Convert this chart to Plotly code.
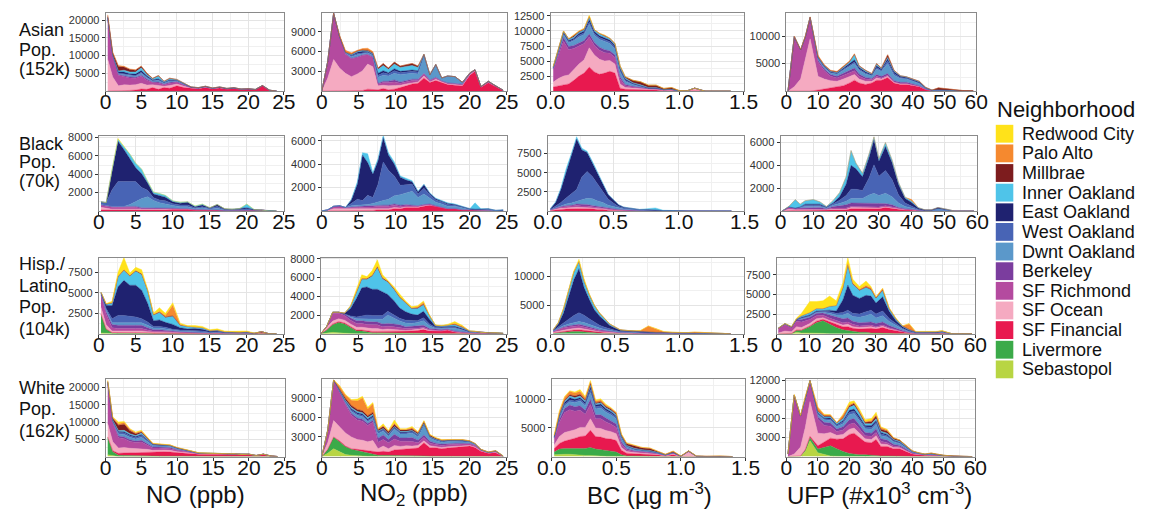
import plotly.graph_objects as go

W, H = 1152, 513
FONT = "Liberation Sans, Arial, Helvetica, sans-serif"

# ---------------- categories ----------------
KEYS = ["RC", "PA", "MB", "IO", "EO", "WO", "DO", "BK", "SR", "SO", "SF", "LV", "SB"]
NAMES = ["Redwood City", "Palo Alto", "Millbrae", "Inner Oakland", "East Oakland", "West Oakland",
         "Dwnt Oakland", "Berkeley", "SF Richmond", "SF Ocean", "SF Financial", "Livermore", "Sebastopol"]
COLORS = ["#FFE21A", "#F5892F", "#7D1C1E", "#4FC4E9", "#1F2270", "#4864B5", "#5B98CA",
          "#7B3D9E", "#B44A9F", "#F5AAC1", "#E8194F", "#3BAA49", "#B8D543"]

ROW_LABELS = [["Asian", "Pop.", "(152k)"], ["Black", "Pop.", "(70k)"],
              ["Hisp./", "Latino", "Pop.", "(104k)"], ["White", "Pop.", "(162k)"]]
X_TITLES = ["NO (ppb)", "NO<sub>2</sub> (ppb)", "BC (µg m<sup>-3</sup>)", "UFP (#x10<sup>3</sup> cm<sup>-3</sup>)"]

# ---------------- x bins ----------------
NO_X = [0.3, 1.0, 1.8, 2.6, 3.4, 4.2, 5.0, 5.8, 6.6, 7.4, 8.2, 9.0, 10, 11, 12, 13, 14, 15, 16, 17, 18, 19, 20, 21, 22, 23, 24]
NO2_X = [0, 0.8, 1.6, 2.4, 3.2, 4.0, 4.8, 5.5, 6.2, 6.9, 7.6, 8.3, 9.0, 9.8, 10.6, 11.4, 12.2, 13.0, 13.8, 14.6,
         15.4, 16.2, 17.0, 18.0, 19.0, 20.0, 20.7, 21.5, 22.5, 23.5, 24.5]
BC_X = [0.02, 0.06, 0.1, 0.14, 0.18, 0.22, 0.26, 0.3, 0.34, 0.38, 0.42, 0.46, 0.5, 0.54, 0.58, 0.64, 0.7, 0.76,
        0.82, 0.88, 0.94, 1.0, 1.06, 1.12, 1.2, 1.3, 1.4]
UFP_X = [0.5, 2.5, 4.5, 6, 7.5, 10, 12, 14, 16, 18, 20, 21.5, 23, 25, 27, 28.5, 30, 32, 34, 36,
         38, 40, 42, 44, 46, 48, 50, 53, 56, 59]

# ---------------- Asian ----------------
asian_no = dict(
    SF=[0,0,0,0,200,300,600,500,1000,500, 1000,800,1500,1000,800,700,1000,700,900,600, 800,500,600,400,1500,200,0],
    SO=[9000,4000,1500,1800,1500,1500,1600,1200,800,1000, 400,800,500,400,100,100,100,0,100,0, 0,0,0,0,0,0,0],
    SR=[11500,6000,3000,2200,2000,1800,2000,1400,600,800, 400,600,500,300,100,50,100,50,50,50, 50,30,30,30,30,30,0],
    BK=[200,200,200,300,300,300,300,300,200,300, 200,300,200,100,0,0,0,0,0,0, 0,0,0,0,0,0,0],
    DO=[0,0,200,300,300,300,500,400,300,400, 300,400,200,200,100,50,100,50,50,50, 50,30,30,30,30,30,0],
    WO=[0,0,200,300,200,200,300,200,100,200, 100,100,100,50,0,0,0,0,0,0, 0,0,0,0,0,0,0],
    EO=[0,0,300,500,400,400,500,300,200,300, 100,200,100,100,50,50,50,50,50,50, 50,0,0,0,0,0,0],
    IO=[0,0,300,500,500,600,800,400,300,700, 200,300,150,150,50,50,50,50,50,50, 50,40,40,40,40,40,0],
    MB=[600,600,1200,900,700,500,400,300,100,200, 100,150,50,50,0,0,0,0,0,0, 0,0,0,0,0,0,0],
    PA=[200,200,300,200,150,100,100,80,0,0, 0,0,0,0,0,0,0,0,0,0, 0,0,0,0,0,0,0],
)
asian_no2 = dict(
    SF=[0,0,0,0,0,0,0,100,300,200, 200,400,200,300,500,800,1100,1200,2000,1300, 1600,1300,1000,900,800,2400,3000,600,1300,700, 100],
    SO=[0,2000,4800,3500,2700,2200,2600,3000,3800,3500, 600,500,600,500,400,300,200,200,300,100, 200,100,100,100,100,100,100,0,0,0, 0],
    SR=[0,2500,7000,4800,2900,2700,2500,2300,1400,1400, 300,400,500,600,300,300,300,200,300,200, 200,100,100,100,100,100,50,50,100,50, 20],
    BK=[0,0,0,0,100,100,100,100,100,100, 100,200,200,300,200,200,200,200,100,100, 100,50,50,50,50,50,50,0,0,0, 0],
    DO=[0,0,0,0,100,200,300,200,200,200, 900,900,800,1000,1100,1000,900,800,2700,700, 1800,400,1000,1000,300,100,50,50,100,50, 30],
    WO=[0,0,0,0,100,150,200,150,100,100, 300,400,300,400,300,300,300,300,100,50, 100,50,50,50,0,0,0,0,0,0, 0],
    EO=[0,0,0,0,0,100,200,200,100,100, 300,300,200,300,200,200,200,200,50,50, 50,0,0,0,0,0,0,0,0,0, 0],
    IO=[0,0,0,0,0,100,100,100,100,100, 600,800,500,700,600,600,700,500,50,0, 0,0,0,0,0,0,0,0,0,0, 0],
    MB=[0,0,0,0,0,50,100,100,100,100, 200,300,200,300,200,300,300,200,0,0, 0,0,0,0,0,0,0,0,0,0, 0],
    PA=[0,0,0,200,300,200,100,200,300,200, 0,0,0,0,0,0,0,0,0,0, 0,0,0,0,0,0,0,0,0,0, 0],
)
asian_bc = dict(
    SF=[700,900,1000,1200,1800,2500,3000,4000,3200,2800, 3000,3300,3000,500,300,300,200,200,200,100, 100,0,0,0,0,0,0],
    SO=[800,1200,1500,1500,1800,2000,2200,3200,2800,2500, 2000,1800,1500,700,300,200,200,100,100,50, 50,0,0,500,0,0,0],
    SR=[2000,3800,5800,4200,3500,3000,2700,1800,1600,1500, 1400,1200,1100,800,300,200,150,100,100,50, 50,50,50,0,0,50,0],
    BK=[200,400,600,500,500,500,500,500,500,500, 500,400,400,400,200,100,100,100,100,50, 100,0,0,0,0,0,0],
    DO=[200,300,500,600,800,1000,1000,1600,1200,1300, 1300,1200,1000,800,500,300,100,0,0,0, 0,0,0,0,0,0,0],
    WO=[0,100,200,200,200,300,300,400,300,300, 300,300,300,300,200,100,100,0,0,0, 0,0,0,0,0,0,0],
    EO=[0,100,200,200,200,300,300,400,300,300, 300,300,300,300,200,100,100,50,50,0, 0,0,0,0,0,0,0],
    IO=[100,100,100,200,200,200,200,400,200,300, 300,200,200,300,200,100,100,50,50,0, 0,0,0,0,0,0,0],
    MB=[100,100,100,100,200,100,100,100,100,100, 100,100,100,100,200,400,500,400,400,200, 300,50,0,0,0,0,0],
    PA=[0,0,0,0,100,100,100,100,0,0, 100,0,0,0,0,0,0,0,0,0, 0,0,0,0,0,0,0],
    RC=[0,0,0,0,0,0,0,100,0,0, 0,0,0,0,0,0,0,0,0,0, 0,0,0,0,0,0,0],
)
asian_ufp = dict(
    SF=[0,0,0,0,0,200,400,700,800,1000, 1500,2000,1500,1200,1500,2000,2000,2500,1500,1200, 1200,1000,800,300,100,100,100,50,0,50],
    SO=[0,800,2200,5800,9500,2500,1800,1200,1000,1200, 1200,1000,700,600,300,400,200,200,100,100, 100,50,50,0,0,0,0,0,0,0],
    SR=[0,9000,5200,4000,3800,2600,1500,800,600,700, 700,700,500,400,300,300,200,200,100,100, 100,50,50,50,0,0,0,0,0,0],
    BK=[0,100,100,100,100,300,300,300,300,400, 500,500,400,300,200,300,300,300,200,200, 200,150,100,50,0,0,0,0,0,0],
    DO=[0,0,0,0,0,300,300,300,400,500, 600,800,700,600,500,1000,900,1800,1000,700, 600,500,400,100,50,100,100,50,0,0],
    WO=[0,0,0,0,0,100,100,100,100,200, 200,300,200,200,100,300,200,500,300,200, 150,150,100,50,0,0,0,0,0,0],
    EO=[0,0,0,0,0,100,100,100,100,200, 300,400,300,200,100,300,200,400,300,200, 150,150,150,50,0,0,0,0,0,0],
    IO=[0,0,0,0,0,100,100,100,100,200, 300,900,200,200,100,300,100,200,200,100, 100,100,100,50,50,0,0,0,0,0],
    MB=[0,0,0,0,0,100,100,100,100,100, 100,100,100,100,100,100,100,500,100,0, 0,50,50,50,0,400,300,200,100,50],
    PA=[0,100,100,200,100,200,100,100,100,100, 100,100,0,0,0,0,0,0,0,0, 0,0,0,0,0,0,0,0,0,0],
)

# ---------------- Black ----------------
black_no = dict(
    SF=[100,100,100,100,100,100,100,100,100,100, 100,100,200,200,200,100,100,100,100,50, 50,50,50,50,100,0,0],
    SO=[300,200,100,100,100,100,100,50,50,50, 50,50,0,0,0,0,0,0,0,0, 0,0,0,0,0,0,0],
    SR=[200,200,200,200,200,200,200,100,100,100, 100,100,50,50,50,50,50,0,0,0, 0,0,0,0,0,0,0],
    BK=[100,100,100,100,100,100,100,100,100,100, 50,50,50,0,0,0,0,0,0,0, 0,0,0,0,0,0,0],
    DO=[0,0,0,0,0,200,500,1000,1200,800, 600,500,300,200,200,100,200,100,200,50, 50,50,100,50,0,0,0],
    WO=[300,300,1800,2700,2700,2500,2200,1200,700,300, 300,300,200,200,200,100,100,100,200,50, 50,50,100,0,0,0,0],
    EO=[0,0,2000,4400,3500,2500,1500,1500,800,400, 500,400,200,200,300,100,200,50,200,100, 50,100,100,50,0,0,0],
    IO=[0,0,200,200,300,500,500,500,200,200, 200,200,100,100,50,100,100,0,0,0, 0,0,400,0,0,0,0],
    RC=[0,0,50,100,50,0,0,0,0,0, 0,0,0,0,0,0,0,0,0,0, 0,0,0,0,0,0,0],
)
black_no2 = dict(
    SF=[0,0,50,50,50,50,50,50,50,50, 100,100,100,200,200,300,300,300,400,500, 400,300,200,200,100,100,100,50,50,0, 0],
    SO=[0,50,150,150,100,100,100,100,100,100, 100,100,100,100,50,50,50,50,50,0, 0,0,0,0,0,0,0,0,0,0, 0],
    SR=[0,50,200,250,150,150,150,150,200,200, 200,200,200,200,150,100,100,50,50,50, 0,0,0,0,0,0,0,0,0,0, 0],
    BK=[0,0,0,0,0,50,100,100,100,100, 100,100,100,100,100,100,50,50,50,50, 50,0,0,0,0,0,0,0,0,0, 0],
    DO=[0,0,0,0,0,100,100,100,100,200, 300,400,500,700,900,1000,1200,700,900,500, 300,300,200,200,150,50,0,100,100,50, 50],
    WO=[0,0,0,0,0,200,500,400,800,500, 1500,3300,2500,1700,800,700,600,300,500,300, 200,200,150,100,50,0,0,0,0,0, 0],
    EO=[0,0,0,0,0,300,1300,3900,2800,2000, 2000,2100,1300,1000,700,400,200,200,300,100, 100,50,100,50,50,50,50,50,50,0, 50],
    IO=[0,0,0,0,0,50,200,200,750,150, 200,200,200,200,100,150,100,50,50,50, 50,50,50,50,50,0,550,0,0,0, 0],
)
black_bc = dict(
    SF=[50,150,200,250,300,300,300,300,300,200, 200,100,100,50,50,50,0,0,0,0, 0,0,0,0,0,0,0],
    SO=[50,100,150,150,150,200,150,150,100,100, 100,50,50,50,0,0,0,0,0,0, 0,0,0,0,0,0,0],
    SR=[50,100,150,200,200,200,200,200,150,150, 100,100,50,50,50,0,0,0,0,0, 0,0,0,0,0,0,0],
    BK=[0,50,100,100,100,200,200,200,150,150, 100,100,50,50,50,50,50,50,0,0, 0,0,0,0,0,0,0],
    DO=[0,0,100,200,300,400,600,800,900,700, 600,400,300,150,100,50,50,0,0,0, 0,0,0,0,0,0,0],
    WO=[50,200,400,800,1200,1500,3000,3500,2900,2200, 1400,800,500,250,150,100,50,50,50,0, 0,0,0,0,0,0,0],
    EO=[100,500,1700,3500,5000,6600,3500,2500,1800,1400, 900,600,400,200,100,50,50,100,50,50, 50,0,0,0,0,0,0],
    IO=[0,100,200,300,250,300,250,150,200,100, 100,50,50,0,0,0,0,100,300,50, 0,0,0,0,0,0,0],
)
black_ufp = dict(
    SF=[0,50,50,50,50,50,50,50,100,100, 100,200,200,200,200,200,200,300,200,150, 100,100,50,0,0,0,0,0,0,0],
    SO=[0,100,50,50,50,50,50,50,50,50, 50,100,100,100,100,50,50,50,50,0, 0,0,0,0,0,0,0,0,0,0],
    SR=[0,150,100,100,100,100,100,50,100,100, 100,100,100,100,100,100,100,100,100,50, 50,0,0,0,0,0,0,0,0,0],
    BK=[0,50,50,50,100,100,100,50,150,200, 300,300,300,300,300,300,300,200,200,100, 50,50,0,0,0,0,0,0,0,0],
    DO=[0,0,0,50,100,100,100,50,100,200, 300,400,400,400,700,900,700,900,700,400, 200,100,50,50,50,200,100,0,0,0],
    WO=[0,0,0,50,100,100,100,50,100,300, 500,800,800,700,1500,2500,1700,2000,1500,700, 300,200,50,0,0,0,0,0,0,0],
    EO=[0,0,0,0,100,100,100,50,100,300, 1000,2100,1800,1200,1800,2200,1300,2100,1500,900, 400,300,100,50,50,100,100,0,0,0],
    IO=[0,50,750,250,300,400,200,50,200,350, 650,1300,500,300,300,250,250,350,250,200, 100,100,50,0,0,0,0,0,0,0],
    PA=[0,0,0,0,0,0,0,0,0,0, 0,0,0,0,0,0,0,0,0,0, 0,150,0,0,0,0,0,0,0,0],
)

# ---------------- Hispanic / Latino ----------------
hisp_no = dict(
    SB=[100,50,0,0,0,0,0,0,0,0, 0,0,0,0,0,0,0,0,0,0, 0,0,0,0,0,0,0],
    LV=[2300,500,100,100,100,100,50,50,50,0, 0,0,0,0,0,0,0,0,0,0, 0,0,0,0,0,0,0],
    SF=[50,50,50,50,50,50,100,100,100,100, 100,100,100,100,100,100,100,50,100,50, 50,50,50,50,250,0,0],
    SO=[800,500,200,200,200,200,200,200,100,100, 100,50,50,0,0,0,0,0,0,0, 0,0,0,0,0,0,0],
    SR=[1500,1300,400,300,300,300,300,300,200,100, 100,100,100,50,50,0,0,0,0,0, 0,0,0,0,0,0,0],
    BK=[200,300,400,400,400,400,400,400,300,200, 200,150,100,100,50,50,50,50,50,0, 0,0,0,0,0,0,0],
    DO=[0,200,200,300,300,300,300,300,300,200, 200,200,100,100,100,100,100,50,50,50, 50,50,50,0,0,0,0],
    WO=[50,200,500,900,900,800,700,500,400,200, 200,200,100,100,100,100,100,50,50,50, 50,50,50,0,0,0,0],
    EO=[50,400,1600,3500,4300,3800,3900,3500,2300,700, 800,600,600,300,200,300,200,100,100,50, 50,50,50,0,0,0,0],
    IO=[50,100,300,1200,1200,1100,1700,1900,1500,700, 900,600,1000,300,300,200,200,100,100,50, 0,0,50,0,0,0,0],
    MB=[0,50,50,100,100,100,100,100,100,50, 50,50,50,0,0,0,0,0,0,0, 0,0,0,0,0,0,0],
    PA=[0,0,0,0,0,0,0,0,0,0, 100,200,1300,100,0,0,0,0,0,0, 0,0,0,0,0,0,0],
    RC=[0,50,200,500,1500,300,400,500,150,200, 450,250,300,150,100,150,150,100,150,100, 100,100,100,50,0,0,0],
)
hisp_no2 = dict(
    SB=[0,100,150,100,50,50,0,0,0,0, 0,0,0,0,0,0,0,0,0,0, 0,0,0,0,0,0,0,0,0,0, 0],
    LV=[0,300,800,1100,1000,600,300,300,200,100, 100,100,100,50,50,50,50,50,50,0, 0,0,0,0,0,0,0,0,0,0, 0],
    SF=[0,50,100,100,100,100,100,100,100,150, 150,150,200,200,200,200,250,300,400,300, 300,300,400,200,100,50,50,50,0,0, 0],
    SO=[0,200,300,300,300,300,300,300,300,300, 300,200,200,200,100,100,100,100,100,50, 50,0,0,0,0,0,0,0,0,0, 0],
    SR=[0,150,850,600,500,400,400,400,400,400, 400,300,300,300,300,200,200,150,150,100, 50,50,50,50,50,0,0,0,0,0, 0],
    BK=[0,0,100,100,150,250,300,300,300,300, 300,300,300,300,300,200,200,200,200,100, 100,100,50,50,50,50,50,50,50,50, 0],
    DO=[0,0,0,0,0,100,200,200,300,300, 300,500,900,600,400,400,300,400,500,300, 100,100,100,300,200,50,50,0,50,50, 50],
    WO=[0,0,0,0,0,100,200,300,400,400, 400,400,400,400,300,300,300,200,300,200, 100,100,100,100,50,50,50,50,0,0, 0],
    EO=[0,0,0,0,100,800,2000,3000,3000,2800, 2800,2500,1800,1500,1100,900,700,600,700,500, 100,100,100,100,100,50,50,0,0,0, 0],
    IO=[0,0,0,0,0,200,600,900,800,1400, 2300,1400,1300,1200,1100,900,600,700,700,350, 100,100,100,200,150,50,0,0,0,0, 0],
    MB=[0,0,0,0,0,50,100,100,100,100, 100,100,100,100,100,50,50,50,50,50, 0,0,0,0,0,0,0,0,0,0, 0],
    PA=[0,0,0,0,0,0,0,0,0,0, 50,50,0,0,0,0,0,100,200,0, 0,0,0,100,100,0,0,0,0,0, 0],
    RC=[0,0,0,0,0,50,300,400,200,500, 700,300,100,200,300,200,150,150,150,50, 50,50,100,200,100,0,50,0,0,0, 0],
)
hisp_bc = dict(
    LV=[100,200,300,400,400,400,300,200,150,100, 50,50,0,0,0,0,0,0,0,0, 0,0,0,0,0,0,0],
    SF=[50,100,150,200,250,300,300,250,200,150, 150,100,100,50,50,50,50,50,50,50, 50,0,0,0,0,0,0],
    SO=[100,150,200,200,250,300,250,200,150,100, 100,100,50,50,50,50,0,0,0,0, 0,0,0,0,0,0,0],
    SR=[150,300,400,400,400,400,350,300,250,200, 150,100,100,50,50,50,50,0,0,0, 0,0,0,0,0,0,0],
    BK=[50,100,150,200,200,250,250,200,200,150, 100,100,100,50,50,50,0,0,0,0, 0,0,0,0,0,0,0],
    DO=[50,150,200,300,400,500,500,450,350,300, 200,150,100,100,100,100,50,50,50,50, 50,50,50,50,50,0,0],
    WO=[50,200,400,800,1300,1500,1300,1000,700,500, 400,250,150,100,100,50,50,50,50,50, 50,50,50,50,50,50,0],
    EO=[100,500,1800,3800,6200,7700,4800,3400,2200,1600, 1100,600,400,200,150,100,100,50,50,50, 50,50,0,0,0,0,0],
    IO=[50,200,700,1300,1300,1200,1100,800,700,450, 350,200,150,50,50,50,50,50,50,50, 50,50,50,50,50,50,0],
    MB=[0,50,50,50,50,50,50,50,50,50, 50,50,50,50,0,0,0,0,0,0, 0,0,0,0,0,0,0],
    PA=[0,0,0,0,0,0,0,0,0,0, 0,0,0,0,0,0,200,1100,600,100, 0,0,50,150,50,0,0],
    RC=[0,50,150,150,250,400,400,150,50,50, 50,0,0,0,0,0,50,0,50,50, 50,0,0,0,0,0,0],
)
hisp_ufp = dict(
    SB=[0,0,0,200,100,100,100,50,0,0, 0,0,0,0,0,0,0,0,0,0, 0,0,0,0,0,0,0,0,0,0],
    LV=[0,0,0,200,300,800,1300,1600,1200,800, 500,400,300,200,200,100,100,100,50,0, 0,0,0,0,0,0,0,0,0,0],
    SF=[0,50,50,100,100,100,200,200,300,400, 400,500,400,400,500,600,500,700,500,400, 200,100,50,50,50,50,100,0,0,0],
    SO=[100,300,200,400,300,300,300,200,200,200, 200,300,200,200,200,200,150,150,100,50, 50,0,0,0,0,0,0,0,0,0],
    SR=[600,800,500,700,700,500,400,300,300,300, 300,300,300,200,200,200,150,150,100,50, 50,50,0,0,0,0,0,0,0,0],
    BK=[0,100,100,200,300,300,300,300,400,400, 500,500,400,400,400,400,400,400,300,200, 100,50,0,0,0,0,0,0,0,0],
    DO=[0,0,0,0,100,100,100,100,200,300, 500,600,600,700,800,1000,700,800,500,400, 200,100,50,50,50,50,100,0,0,0],
    WO=[0,0,0,0,100,100,100,100,200,200, 300,400,400,400,500,500,500,600,400,200, 100,50,50,50,50,50,50,0,0,0],
    EO=[0,0,0,0,100,100,100,100,200,300, 1600,3200,2300,2000,2100,1800,1400,1800,900,400, 200,100,50,50,50,50,50,0,0,0],
    IO=[0,50,50,100,200,300,300,250,500,700, 1500,2500,1400,1000,1000,800,600,800,300,200, 100,100,50,50,50,50,50,0,0,0],
    MB=[0,0,0,0,0,0,0,0,0,0, 50,100,50,50,50,50,50,50,50,0, 0,0,0,0,0,0,0,0,0,0],
    PA=[0,0,0,0,0,0,0,0,0,0, 50,100,100,100,200,200,100,200,50,50, 0,700,0,0,0,0,0,0,0,0],
    RC=[0,0,0,100,300,1400,900,1000,1300,600, 600,800,500,350,550,150,50,50,50,50, 0,50,50,50,50,50,50,0,0,0],
)

# ---------------- White ----------------
white_no = dict(
    SB=[500,200,50,0,0,0,0,0,0,0, 0,0,0,0,0,0,0,0,0,0, 0,0,0,0,0,0,0],
    LV=[5000,1200,300,300,300,300,200,200,200,100, 100,100,100,50,50,0,0,0,0,0, 0,0,0,0,0,0,0],
    SF=[200,300,600,800,800,800,1000,1000,1000,1200, 1300,1200,1000,1000,800,700,700,800,700,700, 700,500,600,300,650,200,0],
    SO=[3900,2600,1500,1500,1300,1200,1200,900,600,600, 500,500,300,200,100,50,50,50,50,50, 50,50,50,0,0,0,0],
    SR=[11500,5500,3000,2600,2000,1800,1800,1300,700,600, 500,500,400,300,200,100,100,50,50,0, 0,0,0,0,0,0,0],
    BK=[300,300,500,500,500,400,500,400,300,300, 300,300,200,200,100,50,50,50,50,50, 50,50,50,0,50,0,0],
    DO=[100,200,600,700,700,600,900,600,400,400, 400,400,300,200,150,100,50,50,50,0, 0,0,0,0,0,0,0],
    WO=[50,100,400,500,400,400,500,300,200,100, 100,100,100,50,50,0,0,0,0,0, 0,0,0,0,0,0,0],
    EO=[50,100,300,300,300,300,300,200,100,100, 100,100,50,50,50,50,0,0,0,0, 0,0,0,0,0,0,0],
    IO=[50,100,300,400,300,300,400,200,100,100, 100,50,50,50,50,0,0,0,0,0, 0,0,0,0,0,0,0],
    MB=[200,500,1500,1800,900,500,300,200,100,50, 50,50,50,50,0,0,0,0,0,0, 0,0,0,0,0,0,0],
    PA=[150,300,500,500,400,300,300,200,100,100, 50,50,50,50,50,0,0,0,0,0, 0,0,0,0,0,0,0],
    RC=[100,100,500,300,200,200,200,100,50,50, 50,50,50,50,50,50,0,0,0,0, 0,0,0,0,0,0,0],
)
white_no2 = dict(
    SB=[0,500,1200,700,300,200,100,100,50,50, 0,0,0,0,0,0,0,0,0,0, 0,0,0,0,0,0,0,0,0,0, 0],
    LV=[0,600,1800,1600,1200,900,800,700,500,400, 200,200,200,200,150,150,100,100,100,50, 50,0,0,0,0,0,0,0,0,0, 0],
    SF=[0,0,0,100,100,100,200,200,300,400, 500,600,500,800,900,1000,1100,1200,2000,1300, 1300,1200,1300,1400,1500,1600,1400,800,500,600, 50],
    SO=[0,1000,2500,2200,2000,1800,1500,1500,1400,1600, 500,800,500,700,500,500,400,400,300,300, 200,200,200,200,100,100,50,50,50,50, 0],
    SR=[0,1900,6200,5100,4300,3300,3000,2900,2500,2800, 1000,1000,900,1000,800,700,700,400,500,400, 300,300,300,300,300,200,200,100,50,100, 0],
    BK=[0,0,0,100,200,300,300,300,300,300, 600,700,500,700,500,500,600,400,400,300, 200,200,200,150,150,100,100,50,0,50, 0],
    DO=[0,0,0,100,200,300,400,400,300,300, 700,600,500,800,600,600,700,500,1500,500, 400,300,300,250,250,200,150,50,50,50, 0],
    WO=[0,0,0,100,100,200,200,200,200,200, 200,200,200,200,200,200,200,200,100,100, 100,100,100,100,100,50,50,0,0,0, 0],
    EO=[0,0,0,100,100,200,200,200,200,200, 100,100,100,100,100,100,100,100,50,50, 50,50,50,50,50,50,0,0,0,0, 0],
    IO=[0,0,0,50,100,200,200,200,200,200, 100,100,100,100,100,100,100,100,100,50, 50,50,50,50,50,50,0,0,0,0, 0],
    MB=[0,0,0,200,300,300,300,300,300,300, 200,300,300,300,200,200,200,200,300,200, 150,100,50,50,50,50,50,50,50,50, 50],
    PA=[0,0,0,400,500,800,1300,2000,1000,1300, 100,100,100,200,100,100,200,100,50,100, 50,50,50,50,50,0,0,0,0,0, 0],
    RC=[0,0,0,100,100,100,300,200,300,200, 100,300,100,500,100,100,200,100,100,50, 50,50,0,0,0,0,0,0,0,0, 0],
)
white_bc = dict(
    SB=[300,400,400,400,300,300,200,200,100,100, 50,50,0,0,0,0,0,0,0,0, 0,0,0,0,0,0,0],
    LV=[500,900,1000,1000,1100,1200,1200,1400,1200,1100, 1000,900,800,300,100,100,50,0,0,0, 0,0,0,0,0,0,0],
    SF=[600,1000,1300,1500,1800,2000,2200,3000,2200,2200, 2100,2100,2000,800,500,400,400,300,300,100, 300,0,0,0,0,0,0],
    SO=[600,1200,1500,1500,1500,1600,1500,2000,1500,1500, 1400,1300,1200,500,300,200,200,200,100,50, 200,0,800,0,0,0,0],
    SR=[1000,2500,3500,3800,3200,3000,2300,2500,1600,1700, 1500,1300,1100,600,300,200,200,200,100,50, 100,50,100,50,0,50,0],
    BK=[200,500,700,800,800,800,700,900,700,700, 700,600,600,400,200,100,100,100,50,50, 50,0,50,0,0,0,0],
    DO=[100,300,500,600,700,800,800,1200,1000,1200, 1000,1000,900,600,300,200,100,100,50,50, 50,0,0,0,0,0,0],
    WO=[50,150,250,300,300,300,300,500,400,400, 300,300,300,200,100,100,50,50,50,0, 0,0,0,0,0,0,0],
    EO=[50,150,300,400,300,300,300,500,300,300, 300,300,200,100,50,50,50,50,50,0, 0,0,0,0,0,0,0],
    IO=[50,150,200,300,300,300,200,300,200,200, 200,200,200,100,100,100,50,50,50,0, 0,0,0,0,0,0,0],
    MB=[100,200,200,200,300,300,200,300,200,200, 200,200,200,200,300,400,300,350,200,100, 200,50,50,50,50,50,0],
    PA=[200,400,500,600,500,500,400,300,300,300, 200,200,200,100,100,100,100,100,50,0, 50,0,0,0,0,0,0],
    RC=[50,150,150,100,200,300,200,200,200,200, 200,100,0,100,50,50,0,0,0,0, 0,0,0,0,0,0,0],
)
white_ufp = dict(
    SB=[0,0,100,800,2500,600,300,100,50,0, 0,0,0,0,0,0,0,0,0,0, 0,0,0,0,0,0,0,0,0,0],
    LV=[0,0,0,200,500,600,1200,1600,1200,800, 500,400,300,300,200,200,100,100,50,50, 0,0,0,0,0,0,0,0,0,0],
    SF=[0,0,0,100,200,500,800,1200,1500,2000, 3000,3300,2800,2000,2000,2500,1500,1500,1200,1200, 800,400,300,200,200,200,100,50,0,0],
    SO=[0,400,1400,3500,5500,2000,1300,900,600,700, 800,800,700,500,500,600,400,300,200,150, 100,50,50,0,0,0,0,0,0,0],
    SR=[400,9200,4800,4000,3300,2200,1300,1000,600,700, 800,800,700,500,500,500,400,300,200,150, 100,50,50,50,50,0,0,0,0,0],
    BK=[0,100,100,200,0,400,500,500,400,500, 700,700,600,500,500,600,400,400,300,200, 200,100,50,50,50,50,0,0,0,0],
    DO=[0,0,0,100,0,300,400,400,400,500, 800,800,700,600,600,700,500,500,400,300, 200,100,50,50,100,50,50,0,0,0],
    WO=[0,0,0,100,0,200,200,200,200,300, 400,400,400,300,300,300,300,200,150,150, 100,50,50,0,50,0,0,0,0,0],
    EO=[0,0,0,100,0,100,100,200,100,200, 300,300,300,200,300,300,200,200,100,100, 100,50,0,0,0,0,0,0,0,0],
    IO=[0,0,0,100,0,200,200,200,200,300, 500,600,500,300,300,300,200,200,100,100, 50,50,0,0,0,0,0,0,0,0],
    MB=[0,0,0,100,0,100,100,100,100,100, 200,300,200,200,300,400,300,300,200,200, 100,50,50,50,100,100,50,50,0,0],
    PA=[0,100,100,200,0,600,200,200,0,500, 200,100,200,100,200,200,300,200,100,0, 0,0,0,0,0,0,0,0,0,0],
    RC=[0,0,0,0,0,0,100,0,0,100, 400,300,300,300,300,400,100,100,0,0, 0,0,0,0,0,0,0,0,0,0],
)

PANELS = [[asian_no, asian_no2, asian_bc, asian_ufp],
          [black_no, black_no2, black_bc, black_ufp],
          [hisp_no, hisp_no2, hisp_bc, hisp_ufp],
          [white_no, white_no2, white_bc, white_ufp]]
XS = [NO_X, NO2_X, BC_X, UFP_X]

# ---------------- axes ----------------
X_RANGE = [[0, 25], [0, 25], [0, 1.5], [0, 60]]
X_TICKS = [[0, 5, 10, 15, 20, 25], [0, 5, 10, 15, 20, 25], [0, 0.5, 1.0, 1.5], [0, 10, 20, 30, 40, 50, 60]]
X_TICKTEXT = [["0", "5", "10", "15", "20", "25"], ["0", "5", "10", "15", "20", "25"],
              ["0.0", "0.5", "1.0", "1.5"], ["0", "10", "20", "30", "40", "50", "60"]]
X_MINOR = [[2.5, 7.5, 12.5, 17.5, 22.5], [2.5, 7.5, 12.5, 17.5, 22.5], [0.25, 0.75, 1.25], [5, 15, 25, 35, 45, 55]]

Y_MAX = [[22000, 11850, 13000, 14200],
         [8200, 6450, 9830, 6600],
         [9350, 8140, 13300, 9700],
         [22400, 11800, 13500, 12200]]
Y_TICKS = [[[5000, 10000, 15000, 20000], [3000, 6000, 9000], [2500, 5000, 7500, 10000, 12500], [5000, 10000]],
           [[2000, 4000, 6000, 8000], [2000, 4000, 6000], [2500, 5000, 7500], [2000, 4000, 6000]],
           [[2500, 5000, 7500], [2000, 4000, 6000, 8000], [5000, 10000], [2500, 5000, 7500]],
           [[5000, 10000, 15000, 20000], [3000, 6000, 9000], [5000, 10000], [3000, 6000, 9000, 12000]]]

# pixel boxes (left, right, top, bottom)
BOXES = [[(93, 276, 8, 87), (315, 505, 8, 87), (550, 748, 8, 87), (792, 987, 8, 87)],
         [(86, 276, 132, 208), (315, 505, 132, 208), (547, 749, 132, 208), (786, 988, 132, 208)],
         [(86, 276, 255, 332), (314, 505, 255, 332), (550, 748, 255, 332), (782, 986, 255, 332)],
         [(93, 277, 378, 456), (315, 505, 378, 456), (551, 750, 378, 456), (792, 986, 378, 456)]]
ROW_LABEL_Y = [[25, 45, 65], [140, 159, 178], [262, 284, 305, 327], [387, 408, 430]]
X_TITLE_CX = [185, 410, 651, 888]


def px(x):
    return x / W


def py(y):
    return 1 - y / H


fig = go.Figure()
layout = dict(width=W, height=H, margin=dict(l=0, r=0, t=0, b=0),
              paper_bgcolor="white", plot_bgcolor="white", showlegend=False,
              font=dict(family=FONT, color="#1a1a1a"))

for r in range(4):
    for c in range(4):
        k = r * 4 + c + 1
        sfx = "" if k == 1 else str(k)
        data = PANELS[r][c]
        xs = XS[c]
        for i in range(len(KEYS) - 1, -1, -1):
            key = KEYS[i]
            if key not in data:
                continue
            vals = data[key]
            if len(vals) != len(xs):
                raise ValueError(f"length mismatch panel r{r} c{c} key {key}: {len(vals)} vs {len(xs)}")
            fig.add_trace(go.Scatter(
                x=xs, y=vals, xaxis="x" + sfx, yaxis="y" + sfx,
                stackgroup="g" + str(k), mode="lines",
                line=dict(width=0.4, color=COLORS[i], shape="linear"),
                fillcolor=COLORS[i], name=NAMES[i], hoverinfo="skip", showlegend=False))
        l, rr, t, b = BOXES[r][c]
        yt = Y_TICKS[r][c]
        step = yt[1] - yt[0]
        yminor = [v - step / 2 for v in yt]
        if yt[-1] + step / 2 < Y_MAX[r][c]:
            yminor.append(yt[-1] + step / 2)
        layout["xaxis" + sfx] = dict(
            domain=[px(l), px(rr)], anchor="y" + sfx, range=X_RANGE[c],
            tickmode="array", tickvals=X_TICKS[c], ticktext=X_TICKTEXT[c],
            ticks="outside", ticklen=3, tickwidth=1, tickcolor="#333333",
            tickfont=dict(size=21, color="#111111", family=FONT), ticklabelstandoff=-11,
            showgrid=True, gridcolor="#e4e4e4", gridwidth=1,
            minor=dict(tickvals=X_MINOR[c], showgrid=True, gridcolor="#f0f0f0", gridwidth=0.7, ticks=""),
            showline=True, linecolor="#8a8a8a", linewidth=1, mirror=True, zeroline=False, fixedrange=True)
        layout["yaxis" + sfx] = dict(
            domain=[py(b), py(t)], anchor="x" + sfx, range=[0, Y_MAX[r][c]],
            tickmode="array", tickvals=yt, ticktext=[str(v) for v in yt],
            ticks="outside", ticklen=3, tickwidth=1, tickcolor="#333333",
            tickfont=dict(size=11, color="#333333", family=FONT),
            showgrid=True, gridcolor="#e4e4e4", gridwidth=1,
            minor=dict(tickvals=yminor, showgrid=True, gridcolor="#f0f0f0", gridwidth=0.7, ticks=""),
            showline=True, linecolor="#8a8a8a", linewidth=1, mirror=True, zeroline=False, fixedrange=True)

annotations = []
shapes = []
# row labels
for r in range(4):
    for line, yy in zip(ROW_LABELS[r], ROW_LABEL_Y[r]):
        annotations.append(dict(x=px(2), y=py(yy), xref="paper", yref="paper", text=line,
                                showarrow=False, xanchor="left", yanchor="middle",
                                font=dict(size=18, color="#111111", family=FONT)))
# x titles
for c in range(4):
    annotations.append(dict(x=px(X_TITLE_CX[c]), y=py(494), xref="paper", yref="paper", text=X_TITLES[c],
                            showarrow=False, xanchor="center", yanchor="middle",
                            font=dict(size=24, color="#111111", family=FONT)))
# legend (manual, ggplot style)
annotations.append(dict(x=px(1006), y=py(106), xref="paper", yref="paper", text="Neighborhood",
                        showarrow=False, xanchor="left", yanchor="middle",
                        font=dict(size=22, color="#111111", family=FONT)))
for i, name in enumerate(NAMES):
    cy = 130 + 19.83 * i
    shapes.append(dict(type="rect", xref="paper", yref="paper",
                       x0=px(1007), x1=px(1025), y0=py(cy + 9), y1=py(cy - 9),
                       fillcolor=COLORS[i], line=dict(width=0)))
    annotations.append(dict(x=px(1032), y=py(cy), xref="paper", yref="paper", text=name,
                            showarrow=False, xanchor="left", yanchor="middle",
                            font=dict(size=18, color="#111111", family=FONT)))

layout["annotations"] = annotations
layout["shapes"] = shapes
fig.update_layout(**layout)
fig.write_html("out.html")
